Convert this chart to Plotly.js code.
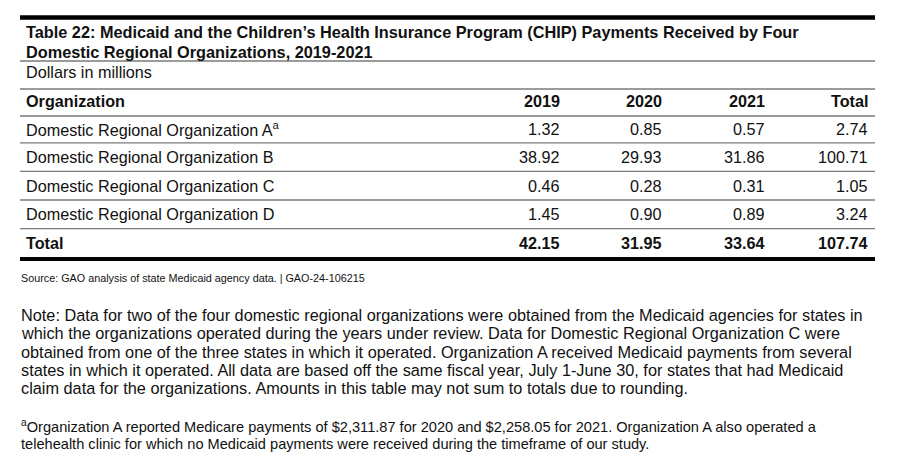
<!DOCTYPE html>
<html>
<head>
<meta charset="utf-8">
<script src="https://cdn.plot.ly/plotly-3.0.1.min.js"></script>
<style>html,body{margin:0;padding:0;background:#fff;}#chart{width:905px;height:473px;}</style>
</head>
<body>
<div id="chart"></div>
<script>
// ---- data ----
const titleLines = [
  'Table 22: Medicaid and the Children\u2019s Health Insurance Program (CHIP) Payments Received by Four',
  'Domestic Regional Organizations, 2019-2021'
];
const unitLabel = 'Dollars in millions';
const headerLabel = 'Organization';
const columns = ['2019', '2020', '2021', 'Total'];
const organizations = [
  'Domestic Regional Organization A<sup>a</sup>',
  'Domestic Regional Organization B',
  'Domestic Regional Organization C',
  'Domestic Regional Organization D'
];
const values2019 = [1.32, 38.92, 0.46, 1.45];
const values2020 = [0.85, 29.93, 0.28, 0.90];
const values2021 = [0.57, 31.86, 0.31, 0.89];
const valuesTotal = [2.74, 100.71, 1.05, 3.24];
const totalLabel = 'Total';
const totalsRow = [42.15, 31.95, 33.64, 107.74];
const sourceText = 'Source: GAO analysis of state Medicaid agency data. | GAO-24-106215';
const noteLines = [
  'Note: Data for two of the four domestic regional organizations were obtained from the Medicaid agencies for states in',
  'which the organizations operated during the years under review. Data for Domestic Regional Organization C were',
  'obtained from one of the three states in which it operated. Organization A received Medicaid payments from several',
  'states in which it operated. All data are based off the same fiscal year, July 1-June 30, for states that had Medicaid',
  'claim data for the organizations. Amounts in this table may not sum to totals due to rounding.'
];
const footnoteLines = [
  '<sup>a</sup>Organization A reported Medicare payments of $2,311.87 for 2020 and $2,258.05 for 2021. Organization A also operated a',
  'telehealth clinic for which no Medicaid payments were received during the timeframe of our study.'
];

// ---- layout helpers ----
const FONT = 'Liberation Sans, Arial, sans-serif';
const INK = '#111111';
const tableLeft = 20, tableRight = 875;
const labelX = 25;
const colRight = [561, 663, 766, 869];
const headerY = 101;
const rowY0 = 128.5, rowH = 28.6;
const valueCols = [values2019, values2020, values2021, valuesTotal];

const ann = [];
function txt(x, y, text, size, bold, xanchor) {
  ann.push({
    xref: 'x', yref: 'y', x: x, y: y, text: bold ? '<b>' + text + '</b>' : text,
    showarrow: false, xanchor: xanchor || 'left', yanchor: 'middle',
    align: xanchor === 'right' ? 'right' : 'left',
    font: {family: FONT, size: size, color: INK}, borderpad: 0
  });
}

titleLines.forEach((t, i) => txt(labelX, 32 + i * 20, t, 16.3, true));
txt(labelX, 72, unitLabel, 16.2, false);
txt(labelX, headerY, headerLabel, 16.2, true);
columns.forEach((c, j) => txt(colRight[j], headerY, c, 16.2, true, 'right'));
organizations.forEach((o, i) => {
  const y = rowY0 + i * rowH;
  txt(labelX, y, o, 16.2, false);
  valueCols.forEach((col, j) => txt(colRight[j], y, col[i].toFixed(2), 16.2, false, 'right'));
});
const totY = rowY0 + organizations.length * rowH;
txt(labelX, totY, totalLabel, 16.2, true);
totalsRow.forEach((v, j) => txt(colRight[j], totY, v.toFixed(2), 16.2, true, 'right'));
txt(20, 278, sourceText, 10.8, false);
noteLines.forEach((l, i) => txt(20, 315 + i * 18.3, l, 16.3, false));
footnoteLines.forEach((l, i) => txt(20, 425.5 + i * 18, l, 14.6, false));

const shapes = [];
function hline(y, w, color) {
  shapes.push({type: 'line', xref: 'x', yref: 'y', x0: tableLeft, x1: tableRight, y0: y, y1: y,
    line: {color: color, width: w}});
}
hline(17.5, 4.5, '#000');
[61, 89, 116].forEach(y => hline(y, 1.3, '#7a7a7a'));
organizations.forEach((o, i) => hline(rowY0 + i * rowH + rowH / 2, 1.3, '#7a7a7a'));
hline(totY + 16, 4, '#000');

const layout = {
  width: 905, height: 473,
  margin: {l: 0, r: 0, t: 0, b: 0},
  paper_bgcolor: '#fff', plot_bgcolor: '#fff',
  showlegend: false,
  xaxis: {range: [0, 905], visible: false, fixedrange: true},
  yaxis: {range: [473, 0], visible: false, fixedrange: true},
  annotations: ann, shapes: shapes
};
Plotly.newPlot('chart', [], layout, {staticPlot: true, displayModeBar: false});
</script>
</body>
</html>
